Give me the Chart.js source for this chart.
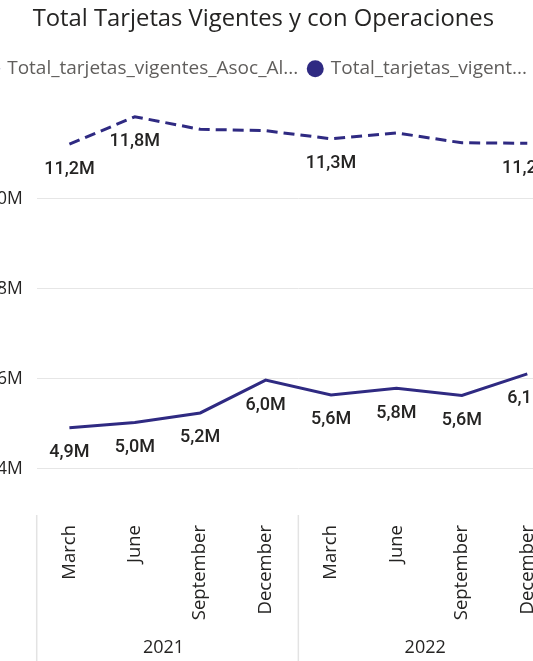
<!DOCTYPE html>
<html><head><meta charset="utf-8">
<script src="https://cdn.jsdelivr.net/npm/chart.js@4.4.1/dist/chart.umd.min.js"></script>
<style>
html,body{margin:0;padding:0;background:#fff;overflow:hidden;width:533px;height:661px;}
#wrap{position:absolute;left:-40px;top:0;width:620px;height:661px;}
</style></head><body>
<div id="wrap"><canvas id="c" width="620" height="661"></canvas></div>
<script>
const monthLabels = ['March','June','September','December','March','June','September','December'];
const yearOfPoint = ['2021','2021','2021','2021','2022','2022','2022','2022'];
const yearGroups = ['2021','2022'];
const chartTitle = 'Total Tarjetas Vigentes y con Operaciones';
const seriesNames = ['Total_tarjetas_vigentes_Asoc_Al...', 'Total_tarjetas_vigent...'];
const vigentesAsoc = [11220000, 11830000, 11550000, 11520000, 11340000, 11470000, 11250000, 11240000];
const vigentesOper = [4910000, 5030000, 5240000, 5970000, 5640000, 5790000, 5630000, 6110000];
const asocLabelShown = [true, true, false, false, true, false, false, true];
const operLabelShown = [true, true, true, true, true, true, true, true];
const yTicks = [4000000, 6000000, 8000000, 10000000];

const LINE = '#2F2A82';
const TEXT = '#252423';

function fmtM(v){ return (v/1e6).toFixed(1).replace('.', ',') + 'M'; }

const legendShift = {
  id: 'legendShift',
  afterLayout(chart){
    if (chart.legend) { chart.legend.left -= 7; chart.legend.right -= 7; }
  }
};

const dataLabelPlugin = {
  id: 'dataLabels',
  afterDatasetsDraw(chart){
    const ctx = chart.ctx;
    const shown = [asocLabelShown, operLabelShown];
    ctx.save();
    ctx.font = '500 18px Roboto';
    ctx.fillStyle = TEXT;
    ctx.textAlign = 'center';
    ctx.textBaseline = 'middle';
    chart.data.datasets.forEach((ds, di) => {
      const meta = chart.getDatasetMeta(di);
      meta.data.forEach((el, i) => {
        if (!shown[di][i]) return;
        ctx.fillText(fmtM(ds.data[i]), el.x, el.y + 25);
      });
    });
    ctx.restore();
  }
};

const yearPlugin = {
  id: 'years',
  afterDraw(chart){
    const x = chart.scales.x, area = chart.chartArea, ctx = chart.ctx;
    const half = (x.getPixelForValue(1) - x.getPixelForValue(0)) / 2;
    ctx.save();
    ctx.strokeStyle = '#E3E3E3';
    ctx.lineWidth = 1.5;
    ctx.font = '18px "Open Sans"';
    ctx.fillStyle = TEXT;
    ctx.textAlign = 'center';
    ctx.textBaseline = 'middle';
    yearGroups.forEach((yr, gi) => {
      const idx = [];
      yearOfPoint.forEach((y, i) => { if (y === yr) idx.push(i); });
      const left = x.getPixelForValue(idx[0]) - half;
      const right = x.getPixelForValue(idx[idx.length - 1]) + half;
      const lines = gi === yearGroups.length - 1 ? [left, right] : [left];
      lines.forEach(px => {
        ctx.beginPath();
        ctx.moveTo(px, area.bottom + 1);
        ctx.lineTo(px, chart.height);
        ctx.stroke();
      });
      ctx.fillText(yr, (left + right) / 2 - 4, 648);
    });
    ctx.restore();
  }
};

new Chart(document.getElementById('c'), {
  type: 'line',
  data: {
    labels: monthLabels,
    datasets: [
      { label: seriesNames[0], data: vigentesAsoc, borderColor: LINE, backgroundColor: LINE,
        borderWidth: 3, borderDash: [11, 6], pointRadius: 0, tension: 0, fill: false },
      { label: seriesNames[1], data: vigentesOper, borderColor: LINE, backgroundColor: LINE,
        borderWidth: 3, pointRadius: 0, tension: 0, fill: false }
    ]
  },
  options: {
    responsive: false,
    animation: false,
    devicePixelRatio: 1,
    layout: { padding: { left: 6.7, right: 20, top: 0, bottom: 0 } },
    plugins: {
      title: { display: true, text: chartTitle, color: TEXT,
        font: { family: 'Open Sans', size: 23.8, weight: 'normal' },
        padding: { top: 4.8, bottom: 14.84 } },
      legend: { display: true, position: 'top', align: 'center',
        labels: { usePointStyle: true, pointStyle: 'circle', boxWidth: 12, boxHeight: 12, padding: 11,
          color: '#605E5C', font: { family: 'Open Sans', size: 19 },
          generateLabels(chart){
            return chart.data.datasets.map((ds, i) => ({
              text: ds.label, fillStyle: ds.borderColor, strokeStyle: ds.borderColor,
              lineWidth: 0, lineDash: [], pointStyle: 'circle', hidden: false, datasetIndex: i,
              fontColor: '#605E5C'
            }));
          } } },
      tooltip: { enabled: false }
    },
    scales: {
      x: {
        type: 'category', offset: true,
        grid: { display: false, drawTicks: false },
        border: { display: false },
        ticks: { autoSkip: false, maxRotation: 90, minRotation: 90, padding: 11,
          color: TEXT, font: { family: 'Open Sans', size: 18.5 } },
        afterFit(s){ s.height = 147; s.paddingLeft = 0; s.paddingRight = 0; }
      },
      y: {
        min: 2992000, max: 12465000,
        grid: { color: '#E6E6E6', lineWidth: 1, drawTicks: false },
        border: { display: false },
        ticks: { padding: 14, color: TEXT, font: { family: 'Open Sans', size: 17.5 },
          callback: v => (v / 1e6) + 'M' },
        afterBuildTicks(s){ s.ticks = yTicks.map(v => ({ value: v })); },
        afterFit(s){ s.width = 70; s.paddingTop = 0; s.paddingBottom = 0; }
      }
    }
  },
  plugins: [legendShift, dataLabelPlugin, yearPlugin]
});
</script>
</body></html>
